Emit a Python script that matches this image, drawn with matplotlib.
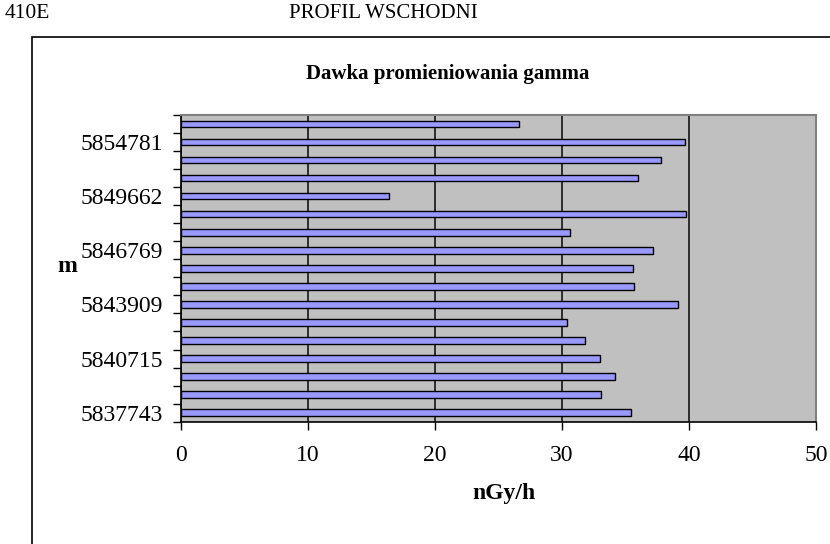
import matplotlib
matplotlib.use("Agg")
import matplotlib.pyplot as plt
from matplotlib.patches import Rectangle
import numpy as np

plt.rcParams['font.family'] = ['Liberation Serif', 'DejaVu Serif']

# categories from bottom to top (only every third is labelled in the original)
categories = ["5837743", "", "", "5840715", "", "", "5843909", "", "",
              "5846769", "", "", "5849662", "", "", "5854781", ""]
# dose values, bottom to top
dose = [35.4, 33.1, 34.2, 33.0, 31.8, 30.4, 39.1, 35.7, 35.6,
        37.2, 30.6, 39.8, 16.4, 36.0, 37.8, 39.7, 26.6]
xticks = [0, 10, 20, 30, 40, 50]

fig = plt.figure(figsize=(8.3, 5.44), dpi=100)

# outer chart frame (cut off at right and bottom)
fig.patches.append(Rectangle((32/830, -0.1), 1.0, 1.1 - 37/544, transform=fig.transFigure,
                             fill=False, edgecolor='black', lw=1.2, zorder=0))

fig.text(5/830, 1 - 14/544, "410E", fontsize=15.5, va='center', ha='left')
fig.text(383/830, 1 - 14/544, "PROFIL WSCHODNI", fontsize=15, va='center', ha='center')
fig.text(448/830, 1 - 74/544, "Dawka promieniowania gamma", fontsize=15,
         fontweight='bold', va='center', ha='center')

ax = fig.add_axes([181/830, 1 - 421.7/544, (816 - 181)/830, (421.7 - 115)/544])
ax.set_facecolor('#c0c0c0')

y = np.arange(len(dose))
ax.barh(y, dose, height=0.36, color='#9999ff', edgecolor='black', lw=1, zorder=3)

ax.set_xlim(0, 50)
ax.set_ylim(-0.5, len(dose) - 0.5)
ax.set_xticks(xticks)
ax.set_xticklabels([str(v) for v in xticks], fontsize=17)
ax.tick_params(axis='x', direction='out', length=6, width=1, pad=11)

# category ticks at boundaries, labels at centres
ax.set_yticks(np.arange(-0.5, len(dose), 1.0))
ax.set_yticklabels([])
ax.set_yticks(y, minor=True)
ax.set_yticklabels(categories, minor=True, fontsize=17)
ax.tick_params(axis='y', which='major', direction='out', length=6, width=1)
ax.tick_params(axis='y', which='minor', length=0, pad=13)

ax.grid(axis='x', color='#222222', lw=1.3, zorder=1)
ax.set_axisbelow(True)

for s in ['top', 'right']:
    ax.spines[s].set_color('#808080')
    ax.spines[s].set_linewidth(1.5)
for s in ['left', 'bottom']:
    ax.spines[s].set_color('black')
    ax.spines[s].set_linewidth(1.2)

fig.text(67/830, 1 - 267/544, "m", fontsize=17, fontweight='bold', va='center', ha='center')
fig.text(504/830, 1 - 493/544, "nGy/h", fontsize=17, fontweight='bold', va='center', ha='center')

fig.savefig("out.png", dpi=100)
